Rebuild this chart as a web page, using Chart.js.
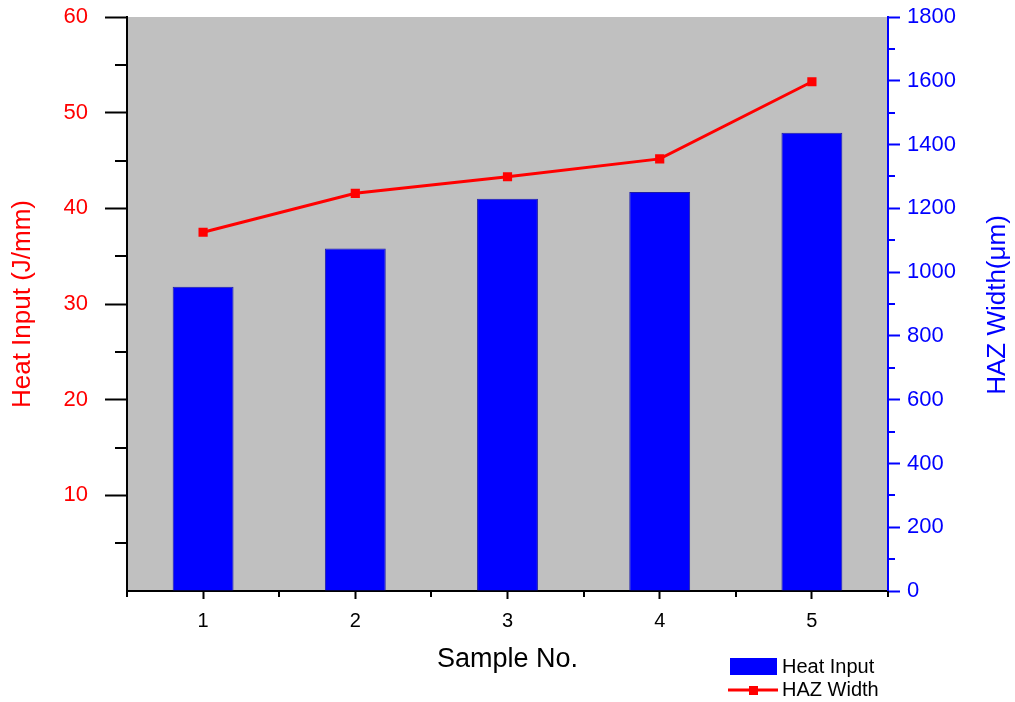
<!DOCTYPE html>
<html>
<head>
<meta charset="utf-8">
<script src="https://cdn.jsdelivr.net/npm/chart.js@4"></script>
<style>
  body { margin: 0; background: #fff; }
</style>
</head>
<body>
<canvas id="chart" width="1015" height="702"></canvas>
<script>
const samples = ['1', '2', '3', '4', '5'];
const heatInput = [31.8, 35.8, 41.0, 41.7, 47.9];      // J/mm, left axis
const hazWidth = [1125, 1247, 1299, 1355, 1597];        // µm, right axis
const rightTitle = 'HAZ Width(\u03bcm)';

const FONT = 'Arial, "Liberation Sans", sans-serif';

// grey plot background
const plotBg = {
  id: 'plotBg',
  beforeDraw(chart) {
    const a = chart.chartArea;
    const ctx = chart.ctx;
    ctx.save();
    ctx.fillStyle = '#c0c0c0';
    ctx.fillRect(a.left, a.top, a.right - a.left, a.bottom - a.top);
    ctx.restore();
  }
};

// minor ticks, Origin style, plus the right title read bottom-to-top
const axisExtras = {
  id: 'axisExtras',
  afterDraw(chart) {
    const ctx = chart.ctx;
    const a = chart.chartArea;
    const y = chart.scales.y, y1 = chart.scales.y1;
    ctx.save();
    ctx.lineWidth = 2;
    ctx.strokeStyle = '#000';
    ctx.beginPath();
    for (let v = 5; v < 60; v += 10) {
      const p = Math.round(y.getPixelForValue(v));
      ctx.moveTo(a.left - 12, p); ctx.lineTo(a.left, p);
    }
    const step = (a.right - a.left) / samples.length;
    for (let k = 0; k <= samples.length; k++) {
      const p = Math.round(a.left + k * step);
      ctx.moveTo(p, a.bottom); ctx.lineTo(p, a.bottom + 6);
    }
    ctx.stroke();
    ctx.strokeStyle = '#0000ff';
    ctx.beginPath();
    for (let v = 100; v < 1800; v += 200) {
      const p = Math.round(y1.getPixelForValue(v));
      ctx.moveTo(a.right, p); ctx.lineTo(a.right + 7, p);
    }
    ctx.stroke();

    ctx.translate(998, 305);
    ctx.rotate(-Math.PI / 2);
    ctx.fillStyle = '#0000ff';
    ctx.font = '26px ' + FONT;
    ctx.textAlign = 'center';
    ctx.textBaseline = 'middle';
    ctx.fillText(rightTitle, 0, 0);
    ctx.restore();
  }
};

// legend in the bottom right corner
const cornerLegend = {
  id: 'cornerLegend',
  afterDraw(chart) {
    const ctx = chart.ctx;
    const bar = chart.data.datasets.find(d => d.type === 'bar');
    const line = chart.data.datasets.find(d => d.type === 'line');
    ctx.save();
    ctx.fillStyle = bar.backgroundColor;
    ctx.fillRect(730, 658, 47, 17);
    ctx.strokeStyle = line.borderColor;
    ctx.lineWidth = 3;
    ctx.beginPath();
    ctx.moveTo(728, 690); ctx.lineTo(778, 690);
    ctx.stroke();
    ctx.fillStyle = line.borderColor;
    ctx.fillRect(749, 686, 9, 9);
    ctx.fillStyle = '#000';
    ctx.font = '20px ' + FONT;
    ctx.textBaseline = 'middle';
    ctx.fillText(bar.label, 782, 667);
    ctx.fillText(line.label, 782, 690);
    ctx.restore();
  }
};

function fixWidth(scale) {
  scale.width = 127;
  scale.paddingTop = 0;
  scale.paddingBottom = 0;
}

new Chart(document.getElementById('chart'), {
  data: {
    labels: samples,
    datasets: [{
      type: 'line',
      label: 'HAZ Width',
      data: hazWidth,
      yAxisID: 'y1',
      borderColor: '#ff0000',
      backgroundColor: '#ff0000',
      borderWidth: 3,
      pointStyle: 'rect',
      pointRadius: 6.5,
      pointBorderWidth: 0,
      order: 0
    }, {
      type: 'bar',
      label: 'Heat Input',
      data: heatInput,
      yAxisID: 'y',
      backgroundColor: '#0000ff',
      borderColor: '#1c1ca8',
      borderWidth: 1,
      barPercentage: 0.4,
      categoryPercentage: 1,
      order: 1
    }]
  },
  options: {
    responsive: false,
    animation: false,
    layout: { padding: { top: 17, left: 0, right: 0, bottom: 0 } },
    plugins: {
      legend: { display: false },
      tooltip: { enabled: false }
    },
    scales: {
      x: {
        offset: true,
        afterFit(scale) { scale.height = 111; },
        grid: { offset: false, drawOnChartArea: false, tickLength: 8, tickWidth: 2, tickColor: '#000' },
        border: { color: '#000', width: 2 },
        ticks: { color: '#000', padding: 10, font: { family: FONT, size: 20 } },
        title: {
          display: true, text: 'Sample No.', color: '#000',
          font: { family: FONT, size: 27 }, padding: { top: 0, bottom: 26 }
        }
      },
      y: {
        position: 'left',
        min: 0, max: 60,
        afterFit: fixWidth,
        grid: {
          drawOnChartArea: false, tickLength: 22, tickWidth: 2,
          tickColor: (c) => c.tick && c.tick.value === 0 ? 'rgba(0,0,0,0)' : '#000'
        },
        border: { color: '#000', width: 2 },
        ticks: {
          stepSize: 10, color: '#ff0000', padding: 17,
          font: { family: FONT, size: 22 },
          callback: (v) => v === 0 ? '' : String(v)
        },
        title: {
          display: true, text: 'Heat Input (J/mm)', color: '#ff0000',
          font: { family: FONT, size: 26 }, padding: 7
        }
      },
      y1: {
        position: 'right',
        min: 0, max: 1800,
        afterFit: fixWidth,
        grid: { drawOnChartArea: false, tickLength: 12, tickWidth: 2, tickColor: '#0000ff' },
        border: { color: '#0000ff', width: 2 },
        ticks: {
          stepSize: 200, color: '#0000ff', padding: 7,
          font: { family: FONT, size: 22 },
          callback: (v) => String(v)
        }
      }
    }
  },
  plugins: [plotBg, axisExtras, cornerLegend]
});
</script>
</body>
</html>
